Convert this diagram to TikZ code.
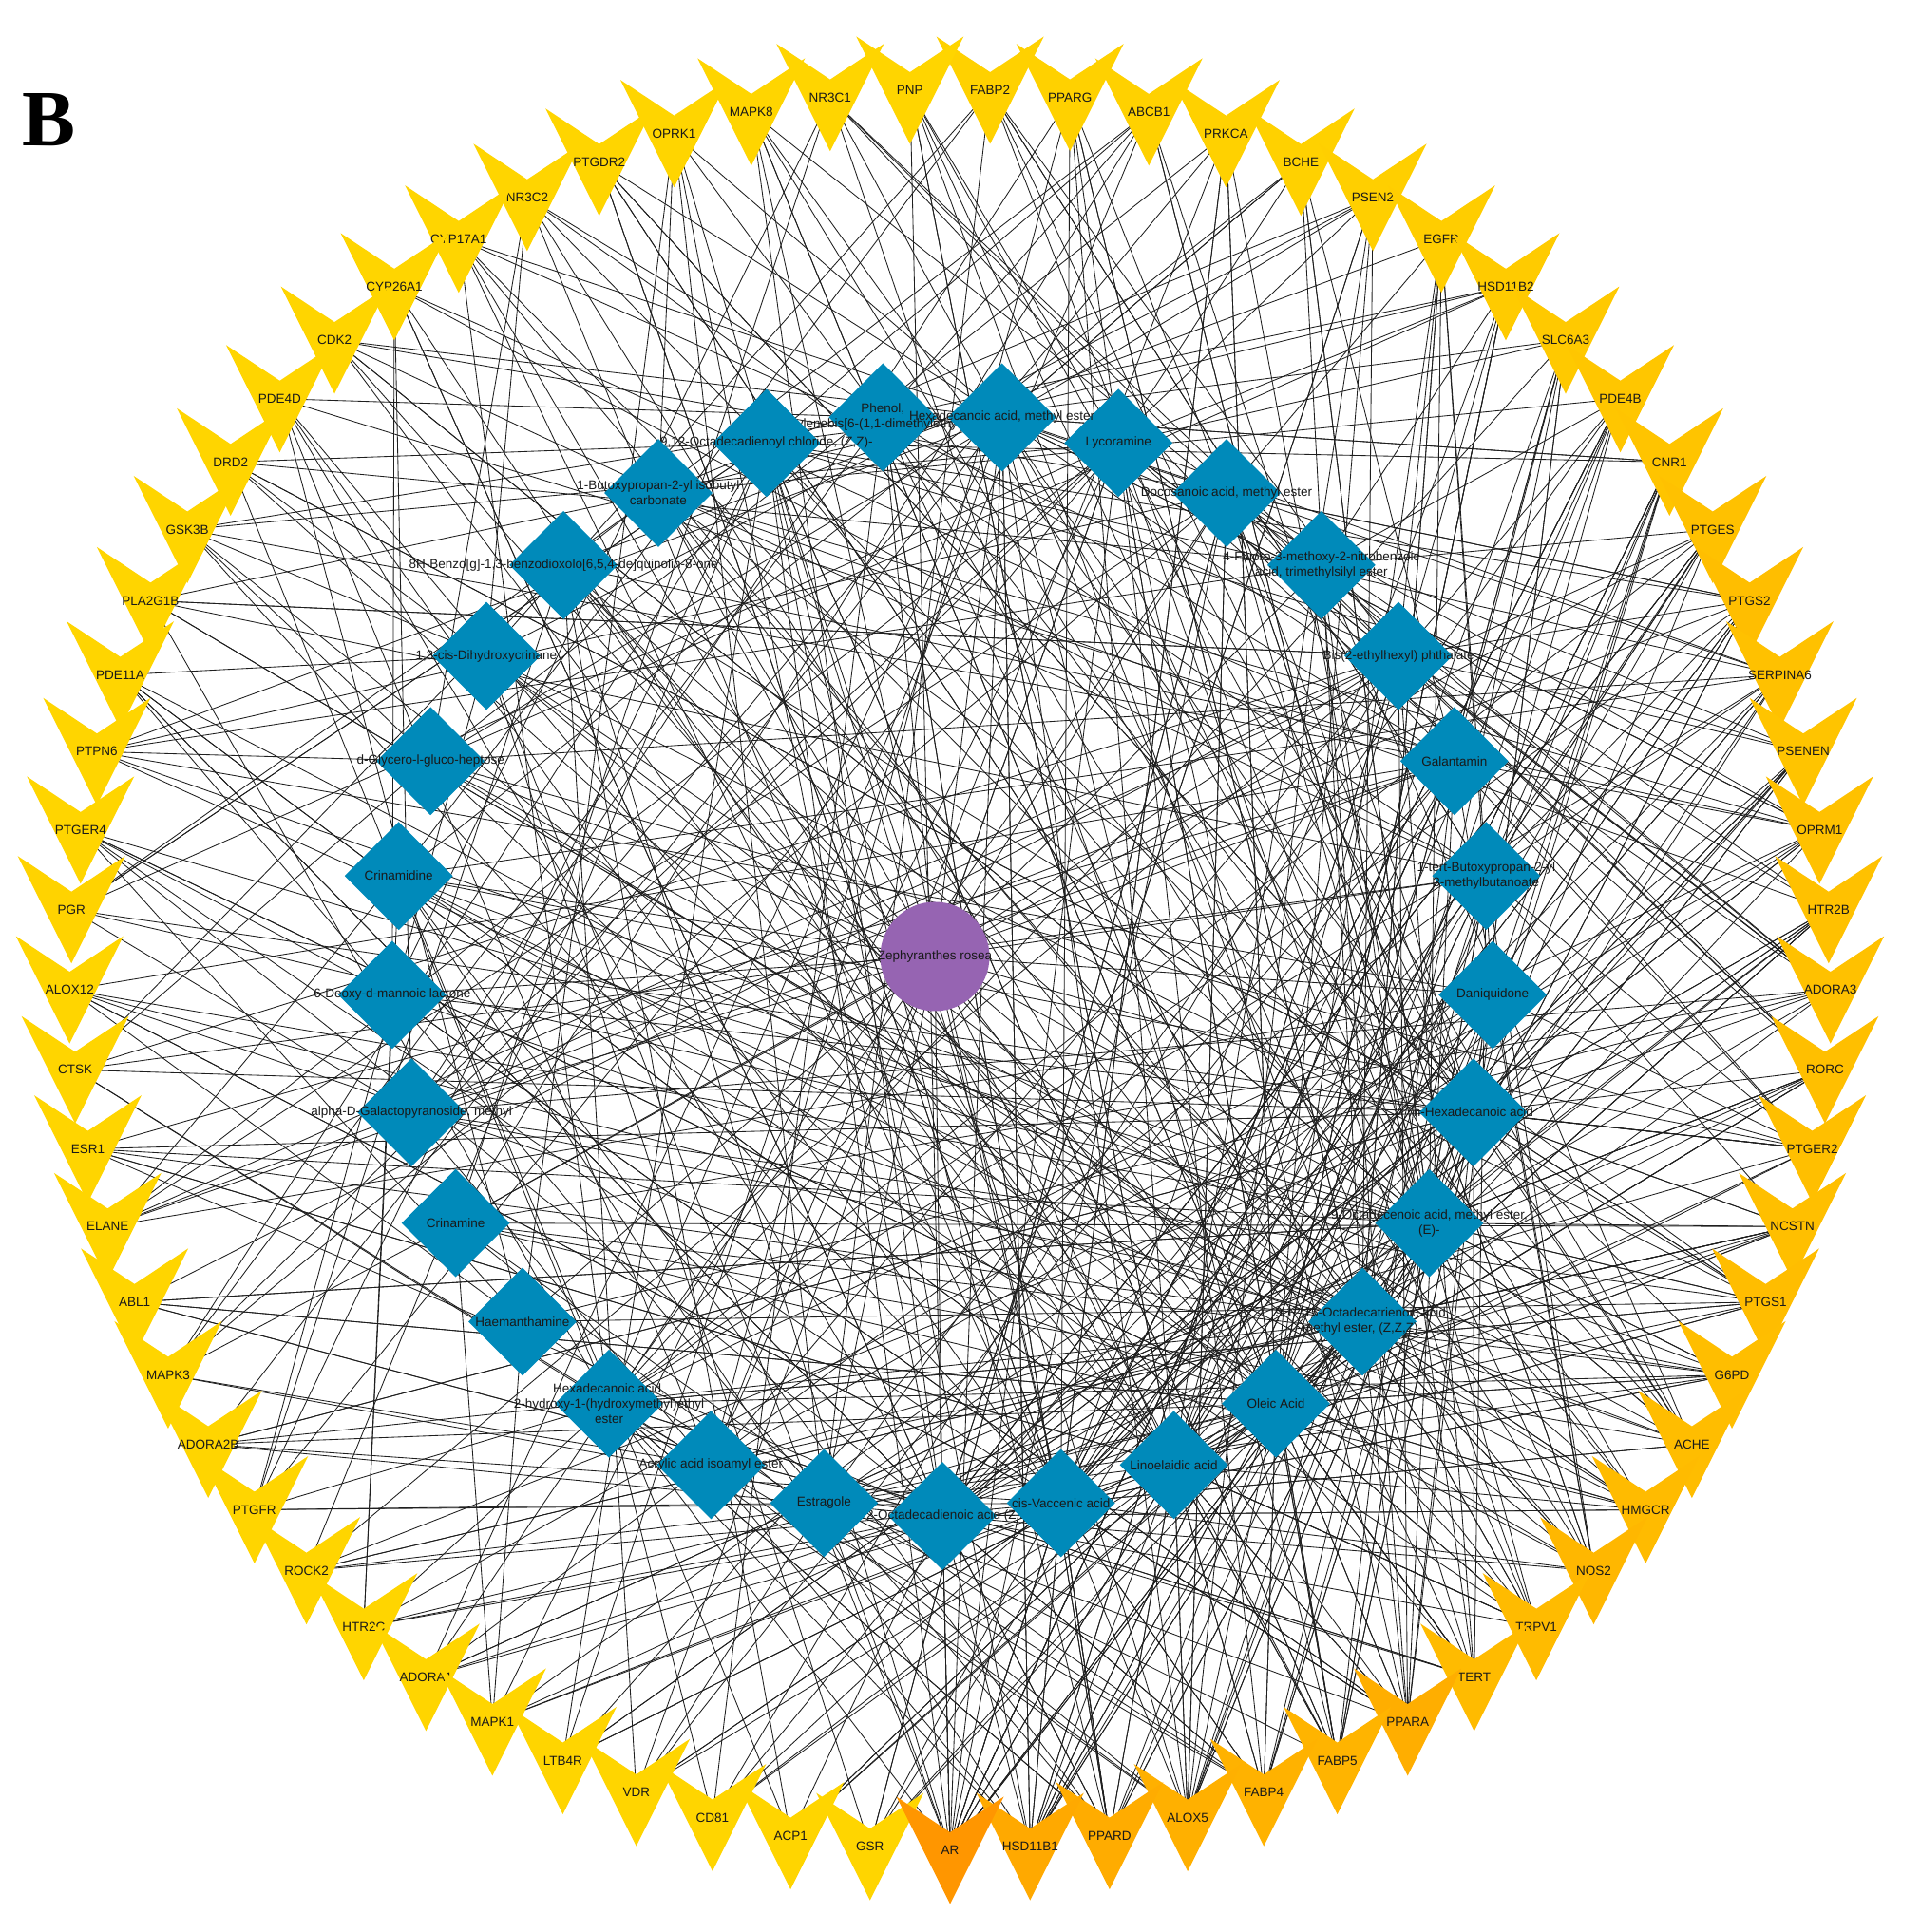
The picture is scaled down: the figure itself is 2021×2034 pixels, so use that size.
\documentclass[tikz,border=0pt]{standalone}
\usepackage{fontspec}
\setmainfont{Liberation Sans}
\newfontfamily\serifB{Liberation Serif}
\usetikzlibrary{shapes.geometric}
\pgfdeclarelayer{background}
\pgfsetlayers{background,main}
\definecolor{tlow}{RGB}{255,216,0}
\definecolor{thigh}{RGB}{255,150,0}
\definecolor{cblue}{RGB}{0,138,186}
\definecolor{cpurple}{RGB}{150,100,178}

% target names and colour level (0 = gold, 1 = orange)
\foreach \i/\n/\t in {0/AR/1.0,1/HSD11B1/0.72,2/PPARD/0.68,3/ALOX5/0.62,4/FABP4/0.58,5/FABP5/0.55,6/PPARA/0.65,7/TERT/0.45,8/TRPV1/0.45,9/NOS2/0.5,10/HMGCR/0.45,11/ACHE/0.42,12/G6PD/0.4,13/PTGS1/0.42,14/NCSTN/0.38,15/PTGER2/0.38,16/RORC/0.38,17/ADORA3/0.35,18/HTR2B/0.35,19/OPRM1/0.35,20/PSENEN/0.3,21/SERPINA6/0.35,22/PTGS2/0.4,23/PTGES/0.35,24/CNR1/0.3,25/PDE4B/0.28,26/SLC6A3/0.22,27/HSD11B2/0.2,28/EGFR/0.18,29/PSEN2/0.15,30/BCHE/0.12,31/PRKCA/0.12,32/ABCB1/0.1,33/PPARG/0.1,34/FABP2/0.1,35/PNP/0.05,36/NR3C1/0.05,37/MAPK8/0.06,38/OPRK1/0.05,39/PTGDR2/0.05,40/NR3C2/0.06,41/CYP17A1/0.05,42/CYP26A1/0.05,43/CDK2/0.05,44/PDE4D/0.05,45/DRD2/0.05,46/GSK3B/0.05,47/PLA2G1B/0.05,48/PDE11A/0.05,49/PTPN6/0.05,50/PTGER4/0.05,51/PGR/0.08,52/ALOX12/0.05,53/CTSK/0.05,54/ESR1/0.06,55/ELANE/0.05,56/ABL1/0.05,57/MAPK3/0.05,58/ADORA2B/0.05,59/PTGFR/0.05,60/ROCK2/0.05,61/HTR2C/0.05,62/ADORA1/0.05,63/MAPK1/0.05,64/LTB4R/0.05,65/VDR/0.05,66/CD81/0.05,67/ACP1/0.05,68/GSR/0.05}{%
  \expandafter\xdef\csname tn\i\endcsname{\n}%
  \expandafter\xdef\csname tt\i\endcsname{\t}}

\def\defCmpLabel#1#2{\expandafter\def\csname cl#1\endcsname{#2}}
\defCmpLabel{0}{9,12-Octadecadienoic acid (Z,Z)-}
\defCmpLabel{1}{cis-Vaccenic acid}
\defCmpLabel{2}{Linoelaidic acid}
\defCmpLabel{3}{Oleic Acid}
\defCmpLabel{4}{9,12,15-Octadecatrienoic acid,\\methyl ester, (Z,Z,Z)-}
\defCmpLabel{5}{9-Octadecenoic acid, methyl ester,\\(E)-}
\defCmpLabel{6}{n-Hexadecanoic acid}
\defCmpLabel{7}{Daniquidone}
\defCmpLabel{8}{1-tert-Butoxypropan-2-yl\\3-methylbutanoate}
\defCmpLabel{9}{Galantamin}
\defCmpLabel{10}{Bis(2-ethylhexyl) phthalate}
\defCmpLabel{11}{4-Fluoro-3-methoxy-2-nitrobenzoic\\acid, trimethylsilyl ester}
\defCmpLabel{12}{Docosanoic acid, methyl ester}
\defCmpLabel{13}{Lycoramine}
\defCmpLabel{14}{Hexadecanoic acid, methyl ester}
\defCmpLabel{15}{Phenol,\\2,2'-methylenebis[6-(1,1-dimethylethyl)-4-methyl-}
\defCmpLabel{16}{9,12-Octadecadienoyl chloride, (Z,Z)-}
\defCmpLabel{17}{1-Butoxypropan-2-yl isobutyl\\carbonate}
\defCmpLabel{18}{8H-Benzo[g]-1,3-benzodioxolo[6,5,4-de]quinolin-8-one}
\defCmpLabel{19}{1,3-cis-Dihydroxycrinane}
\defCmpLabel{20}{d-Glycero-l-gluco-heptose}
\defCmpLabel{21}{Crinamidine}
\defCmpLabel{22}{6-Deoxy-d-mannoic lactone}
\defCmpLabel{23}{alpha-D-Galactopyranoside, methyl}
\defCmpLabel{24}{Crinamine}
\defCmpLabel{25}{Haemanthamine}
\defCmpLabel{26}{Hexadecanoic acid,\\2-hydroxy-1-(hydroxymethyl)ethyl\\ester}
\defCmpLabel{27}{Acrylic acid isoamyl ester}
\defCmpLabel{28}{Estragole}

% weighted pool of compounds used to pick edge partners
\def\poolarr{{0,0,0,0,1,1,1,1,2,2,2,2,3,3,3,3,4,4,4,4,5,5,5,5,6,6,6,6,10,10,12,12,14,14,16,16,26,26,8,8,7,9,11,13,15,17,18,19,20,21,22,23,24,25,27,28,9,13,3}}

\newcommand\mkTgt[1]{%
  \pgfmathsetmacro\tgtang{-90+#1*5.2173913}%
  \edef\tgtname{\csname tn#1\endcsname}%
  \edef\tgtt{\csname tt#1\endcsname}%
  \pgfmathtruncatemacro\tgtpct{\tgtt*100}%
  \colorlet{tgtcol}{thigh!\tgtpct!tlow}%
  \fill[tgtcol, shift={(\tgtang:927)}] (-56.5,56.5) -- (0,19) -- (56.5,56.5) -- (0,-56.5) -- cycle;
  \node[tlab] (t#1) at (\tgtang:927) {\tgtname};
}
\newcommand\mkCmp[1]{%
  \pgfmathsetmacro\cmpang{-90+#1*12.4137931}%
  \node[cmpd] (d#1) at (\cmpang:580) {};
  \node[clab] (dl#1) at (d#1.center) {\csname cl#1\endcsname};
}

\begin{document}
\begin{tikzpicture}[x=1pt,y=1pt,
  tlab/.style={font=\fontsize{13.5}{15}\selectfont, text=black!90, inner sep=0pt},
  clab/.style={font=\fontsize{13.5}{16}\selectfont, text=black!90, align=center, inner sep=0pt},
  cmpd/.style={diamond, aspect=1, fill=cblue, minimum width=114pt, minimum height=114pt, inner sep=0pt},
  herb/.style={circle, fill=cpurple, minimum size=115pt, inner sep=0pt},
  edge/.style={line width=0.85pt, draw=black!88}]
\useasboundingbox (0,0) rectangle (2021,2034);

\node[font=\serifB\bfseries\fontsize{84}{84}\selectfont, anchor=base west, inner sep=0pt] (lblB) at (23,1880) {B};

% targets (outer ring), drawn from top to bottom
\begin{scope}[shift={(1000,1013)}]
\foreach \k in {34,33,...,0} {
  \mkTgt{\k}
  \ifnum\k>0 \pgfmathtruncatemacro\kk{69-\k}\mkTgt{\kk}\fi
}
\end{scope}

% compounds (inner ring)
\begin{scope}[shift={(992,1018)}]
\foreach \j in {15,0,1,2,3,4,5,6,7,8,9,10,11,12,13,14,16,17,18,19,20,21,22,23,24,25,26,27,28} {
  \mkCmp{\j}
}
\end{scope}

% herb
\node[herb] (c) at (984,1027) {};
\node[tlab] (clab) at (c.center) {Zephyranthes rosea};

% connectors
\begin{pgfonlayer}{background}
\fill[white] (0,0) rectangle (2021,2034);
\foreach \j in {0,...,28} {\draw[edge] (c.center) -- (d\j.center);}
\foreach \i in {0,...,68} {
  \edef\et{\csname tt\i\endcsname}
  \pgfmathtruncatemacro\ndeg{round(6+18*\et)}
  \foreach \k in {1,...,\ndeg} {
    \pgfmathtruncatemacro\idx{mod(\i*31+\k*\k*13+\k*17+7,59)}
    \pgfmathtruncatemacro\jj{\poolarr[\idx]}
    \draw[edge] (d\jj.center) -- (t\i.center);
  }
}
\end{pgfonlayer}
\end{tikzpicture}
\end{document}
